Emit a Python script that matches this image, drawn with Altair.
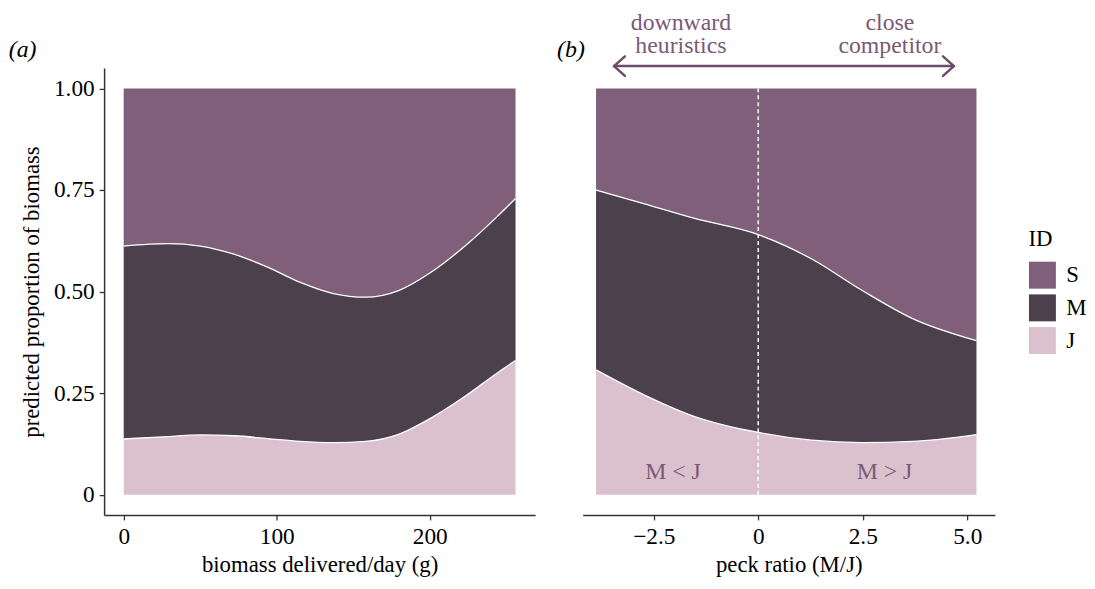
import altair as alt
import pandas as pd

# ---- data ----
ids = ["S", "M", "J"]
id_colors = ["#7f5f79", "#4b404b", "#dbc1ce"]

# panel (a): biomass delivered/day (g)
a_x = [0, 29, 50, 72, 94, 115, 137, 158, 180, 201, 223, 245, 256]
a_j_top = [0.137, 0.143, 0.147, 0.145, 0.138, 0.131, 0.128, 0.131, 0.149, 0.189, 0.242, 0.302, 0.330]
a_m_top = [0.612, 0.618, 0.612, 0.592, 0.560, 0.523, 0.495, 0.486, 0.503, 0.548, 0.612, 0.688, 0.729]

# panel (b): peck ratio (M/J)
b_x = [-3.88, -2.72, -1.52, 0.0, 1.28, 2.48, 3.68, 5.22]
b_j_top = [0.307, 0.245, 0.192, 0.153, 0.134, 0.128, 0.131, 0.148]
b_m_top = [0.750, 0.716, 0.680, 0.640, 0.580, 0.503, 0.434, 0.379]

y_ticks = [0, 0.25, 0.5, 0.75, 1.0]
a_ticks = [0, 100, 200]
b_ticks = [-2.5, 0, 2.5, 5.0]

FONT = "Liberation Serif"
ANNO = "#7a5a76"
H = 451


def bands(xs, jt, mt):
    rows = []
    for x, j, m in zip(xs, jt, mt):
        rows.append(dict(x=x, ID="J", lo=0.0, hi=j))
        rows.append(dict(x=x, ID="M", lo=j, hi=m))
        rows.append(dict(x=x, ID="S", lo=m, hi=1.0))
    return pd.DataFrame(rows)


color = alt.Color(
    "ID:N",
    scale=alt.Scale(domain=ids, range=id_colors),
    legend=alt.Legend(
        title="ID", orient="none", legendX=933, legendY=162,
        symbolType="square", symbolSize=740, symbolStrokeWidth=0,
        symbolOpacity=1, titleFont=FONT, labelFont=FONT,
        titleFontSize=23, labelFontSize=23, titleFontWeight="normal",
        rowPadding=5, labelOffset=10, titlePadding=10,
    ),
)


def panel(df, xdom, xticks, xtitle, xlabelexpr, yaxis):
    xs = alt.X("x:Q", scale=alt.Scale(domain=xdom, nice=False, zero=False),
               axis=alt.Axis(values=xticks, title=xtitle, labelExpr=xlabelexpr))
    ys = alt.Y("hi:Q", scale=alt.Scale(domain=[-0.05, 1.05], nice=False), axis=yaxis)
    area = alt.Chart(df).mark_area(interpolate="monotone", opacity=1).encode(
        x=xs, y=ys, y2="lo:Q", color=color, order=alt.Order("ID:N")
    )
    lines = alt.Chart(df).transform_filter("datum.ID != 'S'").mark_line(
        interpolate="monotone", color="white", strokeWidth=1.3
    ).encode(x="x:Q", y="hi:Q", detail="ID:N")
    return area, lines


yaxis_a = alt.Axis(values=y_ticks, title="predicted proportion of biomass",
                   labelExpr="datum.value == 0 ? '0' : format(datum.value, '.2f')",
                   titlePadding=10)

da = bands(a_x, a_j_top, a_m_top)
db = bands(b_x, b_j_top, b_m_top)

area_a, lines_a = panel(da, [-12.8, 268.8], a_ticks, "biomass delivered/day (g)",
                        "format(datum.value, 'd')", yaxis_a)
lab_a = alt.Chart(pd.DataFrame({"x": [-66], "y": [1.095], "t": ["(a)"]})).mark_text(
    font=FONT, fontSize=24, fontStyle="italic", color="black"
).encode(x="x:Q", y="y:Q", text="t:N")
chart_a = alt.layer(area_a, lines_a, lab_a).properties(width=435, height=H)

area_b, lines_b = panel(db, [-4.2, 5.66], b_ticks, "peck ratio (M/J)",
                        "datum.value == 0 ? '0' : replace(format(datum.value, '.1f'), '-', '\u2013')",
                        None)

dash = alt.Chart(pd.DataFrame({"x": [0.0], "y": [0.0], "y2": [1.0]})).mark_rule(
    color="white", strokeDash=[4, 3], strokeWidth=1.5
).encode(x="x:Q", y="y:Q", y2="y2:Q")

top_txt = pd.DataFrame({
    "x": [-1.85, 3.15],
    "y": [1.162, 1.162],
    "t": ["downward\nheuristics", "close\ncompetitor"],
})
txt_top = alt.Chart(top_txt).mark_text(
    font=FONT, fontSize=24, color=ANNO, lineBreak="\n", lineHeight=24
).encode(x="x:Q", y="y:Q", text="t:N")

in_txt = pd.DataFrame({"x": [-2.04, 3.02], "y": [0.055, 0.055], "t": ["M < J", "M > J"]})
txt_in = alt.Chart(in_txt).mark_text(font=FONT, fontSize=24, color=ANNO).encode(
    x="x:Q", y="y:Q", text="t:N"
)
lab_b = alt.Chart(pd.DataFrame({"x": [-4.48], "y": [1.095], "t": ["(b)"]})).mark_text(
    font=FONT, fontSize=24, fontStyle="italic", color="black"
).encode(x="x:Q", y="y:Q", text="t:N")

ay = 1.055
hx = 0.26
hy = 0.024
arrow = pd.DataFrame({
    "x": [-3.45, -3.45, -3.45, 4.68, 4.68],
    "x2": [4.68, -3.45 + hx, -3.45 + hx, 4.68 - hx, 4.68 - hx],
    "y": [ay, ay, ay, ay, ay],
    "y2": [ay, ay + hy, ay - hy, ay + hy, ay - hy],
})
arrow_b = alt.Chart(arrow).mark_rule(color="#6b4d6b", strokeWidth=2.5, strokeCap="round").encode(
    x="x:Q", x2="x2:Q", y="y:Q", y2="y2:Q"
)

chart_b = alt.layer(area_b, lines_b, dash, txt_top, txt_in, lab_b, arrow_b).properties(
    width=416, height=H)

chart = alt.hconcat(chart_a, chart_b, spacing=48, bounds="flush").properties(
    padding={"left": 0, "top": 0, "right": 0, "bottom": 0}
).configure_view(strokeWidth=0).configure_axis(
    grid=False, domainColor="#333333", domainWidth=1.5, tickColor="#333333",
    tickWidth=1.3, tickSize=5, labelFont=FONT, labelFontSize=23.5, labelColor="black",
    titleFont=FONT, titleFontSize=23, titleFontWeight="normal", titleColor="black",
    labelPadding=5,
).configure_axisX(titlePadding=6)

chart.save("out.html", embed_options={"renderer": "svg", "actions": False})
